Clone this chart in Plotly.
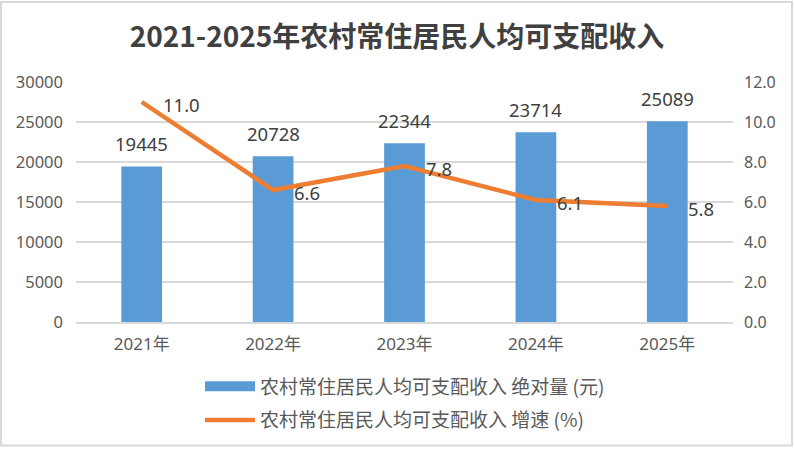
import plotly.graph_objects as go

categories = ["2021年", "2022年", "2023年", "2024年", "2025年"]
income = [19445, 20728, 22344, 23714, 25089]
growth = [11.0, 6.6, 7.8, 6.1, 5.8]
left_ticks = [0, 5000, 10000, 15000, 20000, 25000, 30000]
right_ticks = [0, 2, 4, 6, 8, 10, 12]

title_text = "2021-2025年农村常住居民人均可支配收入"
bar_name = "农村常住居民人均可支配收入 绝对量 (元)"
line_name = "农村常住居民人均可支配收入 增速 (%)"

FONT = "Noto Sans, Noto Sans CJK SC, sans-serif"
CJK = "Noto Sans CJK SC, sans-serif"
TXT = "#595959"
BLUE = "#5B9BD5"
ORANGE = "#ED7D31"
W, H = 794, 452
ML, MR, MT, MB = 76, 61, 82, 127

fig = go.Figure()
fig.add_trace(go.Bar(
    x=categories, y=income, name=bar_name, showlegend=False, legendgroup="a",
    marker=dict(color=BLUE, line=dict(width=0)),
    width=0.31, yaxis="y",
))
# legend-only entry giving the bar series a wide rectangular swatch
fig.add_trace(go.Scatter(
    x=[None], y=[None], name=bar_name, mode="lines", legendgroup="a",
    line=dict(color=BLUE, width=12), yaxis="y",
))
fig.add_trace(go.Scatter(
    x=categories, y=growth, name=line_name, mode="lines", legendgroup="b",
    line=dict(color=ORANGE, width=4.5),
    yaxis="y2",
))

annotations = []
for c, v in zip(categories, income):
    annotations.append(dict(
        x=c, y=v, xref="x", yref="y", text=str(v), showarrow=False,
        yshift=23, font=dict(family=FONT, size=18.5, color="#404040"),
    ))
for c, v in zip(categories, growth):
    annotations.append(dict(
        x=c, y=v, xref="x", yref="y2", text=f"{v:.1f}", showarrow=False,
        xanchor="left", xshift=19, yshift=-2,
        font=dict(family=FONT, size=18.5, color="#404040"),
    ))

pw = W - ML - MR
ph = H - MT - MB
fig.update_layout(
    width=W, height=H,
    margin=dict(l=ML, r=MR, t=MT, b=MB),
    paper_bgcolor="white", plot_bgcolor="white",
    title=dict(text="<b>" + title_text + "</b>", x=0.5, xanchor="center",
               y=1 - 37 / H, yanchor="middle", yref="container",
               font=dict(family=CJK, size=28, color="#404040")),
    xaxis=dict(showgrid=False, showline=True, linecolor="#D9D9D9", linewidth=1.5,
               ticks="", ticklabelstandoff=6,
               tickfont=dict(family=FONT, size=17, color=TXT)),
    yaxis=dict(range=[0, 30000], tickvals=left_ticks, ticktext=[str(t) for t in left_ticks],
               showgrid=True, gridcolor="#D9D9D9", gridwidth=1.5, zeroline=False,
               ticks="", ticklabelstandoff=12,
               tickfont=dict(family=FONT, size=16.5, color=TXT)),
    yaxis2=dict(range=[0, 12], tickvals=right_ticks, ticktext=[f"{t:.1f}" for t in right_ticks],
                overlaying="y", side="right", showgrid=False, zeroline=False,
                ticks="", ticklabelstandoff=10,
                tickfont=dict(family=FONT, size=16, color=TXT)),
    legend=dict(orientation="v", x=(200 - ML) / pw, xanchor="left",
                y=-(371 - (MT + ph)) / ph, yanchor="top",
                font=dict(family=CJK, size=19, color=TXT),
                itemwidth=50, tracegroupgap=6, bgcolor="rgba(0,0,0,0)"),
    annotations=annotations,
    shapes=[dict(type="rect", xref="paper", yref="paper",
                 x0=-(ML - 1) / pw, x1=1 + (MR - 2) / pw,
                 y0=-(MB - 2) / ph, y1=1 + (MT - 1) / ph,
                 line=dict(color="#D9D9D9", width=2), fillcolor="rgba(0,0,0,0)", layer="below")],
)

fig.write_html("out.html", config={"displayModeBar": False},
               post_script="document.body.style.margin='0';")
